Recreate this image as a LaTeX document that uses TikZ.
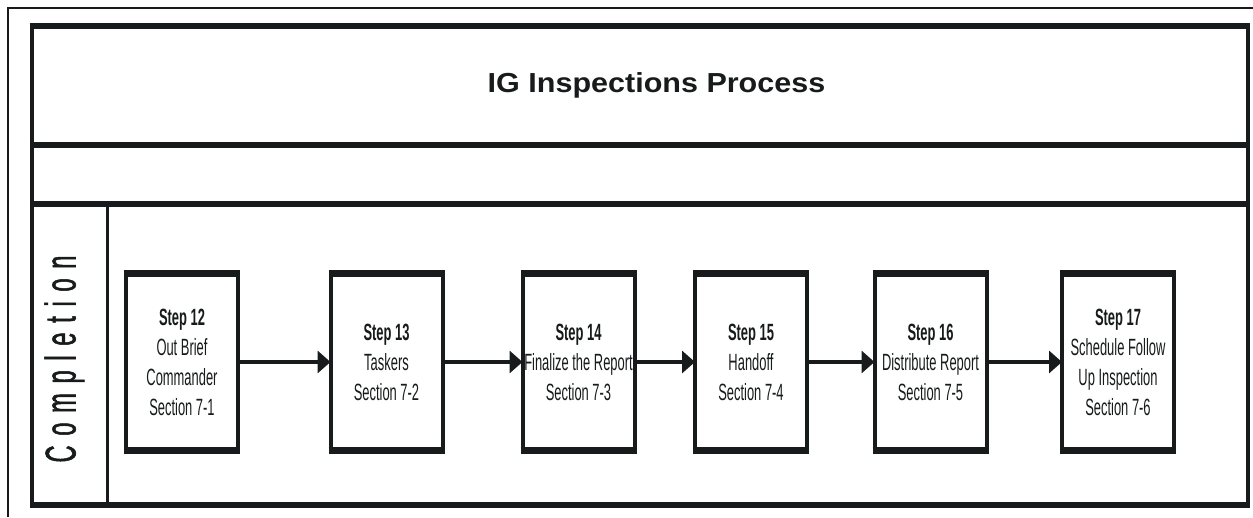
\documentclass[tikz,border=0pt]{standalone}
\usepackage{fontspec}
\usetikzlibrary{arrows.meta}
\newfontfamily\titlefont[FakeStretch=1.11]{Liberation Sans}
\newfontfamily\boxfont[FakeStretch=0.55]{Liberation Sans}
\newfontfamily\sidefont[FakeStretch=0.55,FakeBold=1.2]{Liberation Sans}
\definecolor{ink}{RGB}{24,27,27}
\begin{document}
\begin{tikzpicture}[x=1pt,y=-1pt,
  stepbox/.style={draw=ink, line width=4pt, minimum width=112pt, minimum height=177pt,
    inner sep=0pt, outer sep=0pt, align=center, text=ink,
    font=\boxfont\fontsize{23.5}{30}\selectfont},
  arr/.style={draw=ink, line width=4pt, -{Triangle[length=13pt,width=22pt]}},
  frame/.style={draw=ink, line width=4pt},
  band/.style={draw=ink, line width=6pt}]
\useasboundingbox[fill=white] (0,0) rectangle (1253,517);
% outer thin frame (only top and left visible)
\draw[ink, line width=2pt] (7.5,517) -- (7.5,8) -- (1253,8);
% inner frame
\draw[frame] (31.5,26) rectangle (1248,505);
\draw[band] (29.5,26) -- (1250,26);
\draw[band] (29.5,505) -- (1250,505);
\draw[band] (29.5,145) -- (1250,145);
\draw[band] (29.5,204) -- (1250,204);
\draw[draw=ink, line width=3pt] (107,204) -- (107,505);
% title
\node[anchor=base, inner sep=0pt, text=ink, font=\titlefont\bfseries\fontsize{27.5}{30}\selectfont] (title) at (656.5,92) {IG Inspections Process};
% side label
\node[rotate=90, anchor=base, inner sep=0pt, text=ink, font=\sidefont\fontsize{43}{43}\selectfont] (side) at (75.5,359)
  {C\hspace{9.7pt}o\hspace{9.7pt}m\hspace{9.7pt}p\hspace{9.7pt}l\hspace{9.7pt}e\hspace{9.7pt}t\hspace{9.7pt}i\hspace{9.7pt}o\hspace{9.7pt}n};
% step boxes
\node[stepbox] (b12) at (182,362) {\textbf{Step 12}\\Out Brief\\Commander\\Section 7-1};
\node[stepbox] (b13) at (386.5,362) {\textbf{Step 13}\\Taskers\\Section 7-2};
\node[stepbox] (b14) at (578.5,362) {\textbf{Step 14}\\Finalize the Report\\Section 7-3};
\node[stepbox] (b15) at (751,362) {\textbf{Step 15}\\Handoff\\Section 7-4};
\node[stepbox] (b16) at (930.5,362) {\textbf{Step 16}\\Distribute Report\\Section 7-5};
\node[stepbox] (b17) at (1118,362) {\textbf{Step 17}\\Schedule Follow\\Up Inspection\\Section 7-6};
% thick top and bottom edges of boxes
\foreach \n in {b12,b13,b14,b15,b16,b17}{
  \draw[draw=ink, line width=7pt] ([xshift=-2pt]\n.north west) -- ([xshift=2pt]\n.north east);
  \draw[draw=ink, line width=7pt] ([xshift=-2pt]\n.south west) -- ([xshift=2pt]\n.south east);
}
% connectors
\draw[arr] (b12) -- (b13);
\draw[arr] (b13) -- (b14);
\draw[arr] (b14) -- (b15);
\draw[arr] (b15) -- (b16);
\draw[arr] (b16) -- (b17);
\end{tikzpicture}
\end{document}
